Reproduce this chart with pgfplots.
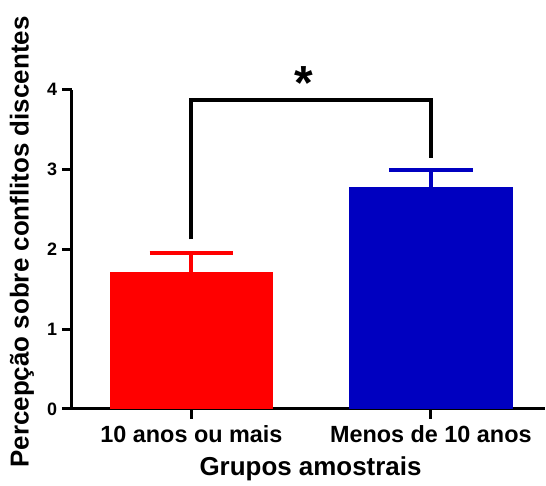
\documentclass[border=0pt]{standalone}
\usepackage{fontspec}
\setmainfont{Liberation Sans}
\usepackage{pgfplots}
\pgfplotsset{compat=1.18}
\definecolor{gred}{RGB}{255,0,0}
\definecolor{gblue}{RGB}{0,0,192}
\begin{document}
\begin{tikzpicture}
\begin{axis}[
  scale only axis, width=355.5pt, height=240pt,
  xmin=-0.5, xmax=1.475, ymin=0, ymax=4,
  axis x line*=bottom, axis y line*=left,
  axis line style={line width=2.25pt, black},
  xtick={0,1}, xticklabels={10 anos ou mais, Menos de 10 anos},
  ytick={0,1,2,3,4},
  tick align=outside, major tick length=7.5pt,
  tick style={line width=2.25pt, black},
  /pgf/number format/assume math mode=true,
  yticklabel style={font=\fontsize{13.5}{16}\selectfont\bfseries},
  xticklabel style={font=\fontsize{17.6}{20}\selectfont\bfseries, yshift=-1.5pt},
  xlabel={Grupos amostrais},
  ylabel={Percepção sobre conflitos discentes},
  label style={font=\fontsize{19.5}{22}\selectfont\bfseries},
  xlabel style={at={(axis description cs:0.505,-0.1875)}, anchor=center},
  ylabel style={at={(axis description cs:-0.1055,0.523)}, anchor=center},
  clip=false,
]
\addplot[ybar, bar shift=0pt, bar width=122.25pt, fill=gred, draw=gred, line width=0pt,
  error bars/.cd, y dir=plus, y explicit, error mark=|,
  error bar style={draw=gred, line width=3pt},
  error mark options={draw=gred, line width=3pt, mark size=31.5pt}]
  coordinates {(0,1.71) +- (0,0.24)};
\addplot[ybar, bar shift=0pt, bar width=122.25pt, fill=gblue, draw=gblue, line width=0pt,
  error bars/.cd, y dir=plus, y explicit, error mark=|,
  error bar style={draw=gblue, line width=3pt},
  error mark options={draw=gblue, line width=3pt, mark size=31.5pt}]
  coordinates {(1,2.77) +- (0,0.22)};
\addplot[black, line width=3pt, no marks, sharp plot]
  coordinates {(0,2.125) (0,3.875) (1,3.875) (1,3.15)};
\node at (axis cs:0.47,4.09) {\fontsize{36}{40}\selectfont\bfseries *};
\end{axis}
\path ([shift={(-54pt,-53.25pt)}]current axis.south west) rectangle ([shift={(0pt,307.5pt)}]current axis.south east);
\end{tikzpicture}
\end{document}
